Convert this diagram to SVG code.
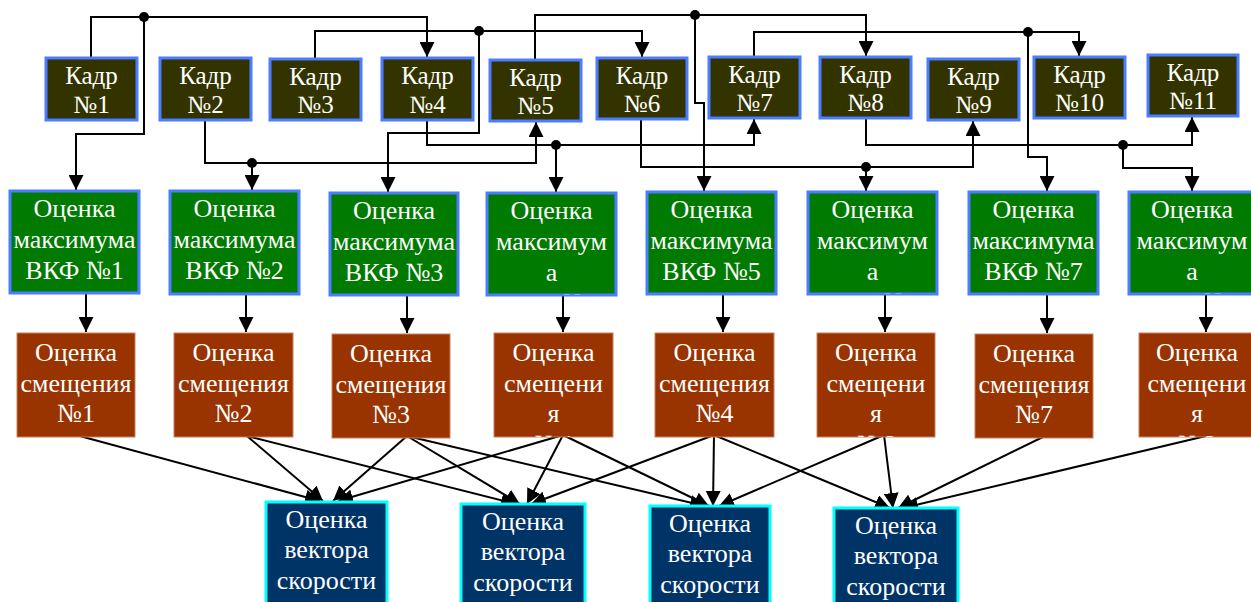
<svg xmlns="http://www.w3.org/2000/svg" width="1251" height="602" viewBox="0 0 1251 602">
<style>
.k rect{fill:#333300;stroke:#4a7dff;stroke-width:3}
.g rect{fill:#007a00;stroke:#4a7dff;stroke-width:3}
.b rect{fill:#993300;stroke:#c9805a;stroke-width:1}
.v rect{fill:#003366;stroke:#00ffff;stroke-width:3}
text{font-family:"Liberation Serif","Times New Roman",serif;font-size:26px;fill:#ffffff;text-anchor:middle}
.k text{font-size:25px}
.c path{fill:none;stroke:#000;stroke-width:2}
.c circle{fill:#000}
</style>
<defs>
<marker id="ar" markerUnits="userSpaceOnUse" markerWidth="15" markerHeight="15" refX="15" refY="7.5" orient="auto"><path d="M0,0 L15,7.5 L0,15 z" fill="#000"/></marker>
<clipPath id="cg4"><rect x="487" y="193" width="129" height="102"/></clipPath>
<clipPath id="cg6"><rect x="808" y="192" width="129" height="102"/></clipPath>
<clipPath id="cg8"><rect x="1129" y="192" width="129" height="102"/></clipPath>
<clipPath id="cb4"><rect x="494" y="333" width="119" height="104"/></clipPath>
<clipPath id="cb6"><rect x="817" y="333" width="118" height="104"/></clipPath>
<clipPath id="cb8"><rect x="1139" y="333" width="118" height="104"/></clipPath>
</defs>
<rect width="1251" height="602" fill="#ffffff"/>

<g id="connectors" class="c">
<path d="M91,58 V17 H427 V57" marker-end="url(#ar)"/>
<path d="M144,17 V134 H76 V190" marker-end="url(#ar)"/>
<path d="M315,59 V31 H642 V57" marker-end="url(#ar)"/>
<path d="M479,31 V133 H388 V192" marker-end="url(#ar)"/>
<path d="M427,120 V145 H754 V119" marker-end="url(#ar)"/>
<path d="M556,145 V192" marker-end="url(#ar)"/>
<path d="M205,120 V163 H536 V122" marker-end="url(#ar)"/>
<path d="M252,163 V190" marker-end="url(#ar)"/>
<path d="M535,60 V15 H866 V56" marker-end="url(#ar)"/>
<path d="M695,15 V103 H704 V191" marker-end="url(#ar)"/>
<path d="M641,119 V167 H973 V121" marker-end="url(#ar)"/>
<path d="M866,167 V191" marker-end="url(#ar)"/>
<path d="M754,57 V32 H1079 V56" marker-end="url(#ar)"/>
<path d="M1028,32 V157 H1047 V191" marker-end="url(#ar)"/>
<path d="M866,118 V145 H1192 V117" marker-end="url(#ar)"/>
<path d="M1123,145 V168 H1192 V191" marker-end="url(#ar)"/>
<circle cx="144" cy="17" r="5"/>
<circle cx="479" cy="31" r="5"/>
<circle cx="556" cy="145" r="5"/>
<circle cx="252" cy="163" r="5"/>
<circle cx="695" cy="15" r="5"/>
<circle cx="866" cy="167" r="5"/>
<circle cx="1028" cy="32" r="5"/>
<circle cx="1123" cy="145" r="5"/>

<path d="M86,294 V332" marker-end="url(#ar)"/>
<path d="M246,295 V332" marker-end="url(#ar)"/>
<path d="M407,296 V333" marker-end="url(#ar)"/>
<path d="M563,296 V332" marker-end="url(#ar)"/>
<path d="M723,295 V332" marker-end="url(#ar)"/>
<path d="M885,295 V332" marker-end="url(#ar)"/>
<path d="M1047,295 V333" marker-end="url(#ar)"/>
<path d="M1206,295 V332" marker-end="url(#ar)"/>

<path d="M76,435 L320,501" marker-end="url(#ar)"/>
<path d="M247,436 L323,501" marker-end="url(#ar)"/>
<path d="M407,436 L333,501" marker-end="url(#ar)"/>
<path d="M563,435 L338,501" marker-end="url(#ar)"/>
<path d="M247,436 L516,504" marker-end="url(#ar)"/>
<path d="M407,436 L520,504" marker-end="url(#ar)"/>
<path d="M563,435 L527,504" marker-end="url(#ar)"/>
<path d="M714,435 L531,504" marker-end="url(#ar)"/>
<path d="M407,436 L705,506" marker-end="url(#ar)"/>
<path d="M563,435 L709,506" marker-end="url(#ar)"/>
<path d="M714,435 L713,506" marker-end="url(#ar)"/>
<path d="M884,435 L719,506" marker-end="url(#ar)"/>
<path d="M714,435 L890,508" marker-end="url(#ar)"/>
<path d="M884,435 L893,508" marker-end="url(#ar)"/>
<path d="M1047,435 L898,508" marker-end="url(#ar)"/>
<path d="M1206,436 L903,508" marker-end="url(#ar)"/>
</g>

<g id="kadr1" class="k"><rect x="46" y="58" width="91" height="62"/><text x="91.5" y="84">Кадр</text><text x="91.5" y="113">№1</text></g>
<g id="kadr2" class="k"><rect x="160" y="58" width="91" height="62"/><text x="205.5" y="84">Кадр</text><text x="205.5" y="113">№2</text></g>
<g id="kadr3" class="k"><rect x="270" y="59" width="91" height="61"/><text x="315.5" y="85">Кадр</text><text x="315.5" y="113">№3</text></g>
<g id="kadr4" class="k"><rect x="382" y="58" width="91" height="62"/><text x="427.5" y="84">Кадр</text><text x="427.5" y="113">№4</text></g>
<g id="kadr5" class="k"><rect x="490" y="60" width="91" height="61"/><text x="535.5" y="86">Кадр</text><text x="535.5" y="114">№5</text></g>
<g id="kadr6" class="k"><rect x="597" y="58" width="90" height="61"/><text x="642" y="84">Кадр</text><text x="642" y="112">№6</text></g>
<g id="kadr7" class="k"><rect x="709" y="57" width="91" height="61"/><text x="754.5" y="83">Кадр</text><text x="754.5" y="111">№7</text></g>
<g id="kadr8" class="k"><rect x="820" y="57" width="91" height="61"/><text x="865.5" y="83">Кадр</text><text x="865.5" y="111">№8</text></g>
<g id="kadr9" class="k"><rect x="928" y="59" width="91" height="61"/><text x="973.5" y="85">Кадр</text><text x="973.5" y="113">№9</text></g>
<g id="kadr10" class="k"><rect x="1034" y="57" width="91" height="61"/><text x="1079.5" y="83">Кадр</text><text x="1079.5" y="111">№10</text></g>
<g id="kadr11" class="k"><rect x="1148" y="55" width="90" height="61"/><text x="1193" y="81">Кадр</text><text x="1193" y="109">№11</text></g>

<g id="vkf1" class="g"><rect x="10" y="191" width="129" height="102"/><text x="74.5" y="217">Оценка</text><text x="74.5" y="248">максимума</text><text x="74.5" y="279">ВКФ №1</text></g>
<g id="vkf2" class="g"><rect x="170" y="191" width="129" height="103"/><text x="234.5" y="217">Оценка</text><text x="234.5" y="248">максимума</text><text x="234.5" y="279">ВКФ №2</text></g>
<g id="vkf3" class="g"><rect x="330" y="193" width="128" height="102"/><text x="394" y="219">Оценка</text><text x="394" y="250">максимума</text><text x="394" y="281">ВКФ №3</text></g>
<g id="vkf4" class="g"><rect x="487" y="193" width="129" height="102"/><g clip-path="url(#cg4)"><text x="551.5" y="219">Оценка</text><text x="551.5" y="250">максимум</text><text x="551.5" y="281">а</text><text x="551.5" y="312">ВКФ №4</text></g></g>
<g id="vkf5" class="g"><rect x="647" y="192" width="129" height="102"/><text x="711.5" y="218">Оценка</text><text x="711.5" y="249">максимума</text><text x="711.5" y="280">ВКФ №5</text></g>
<g id="vkf6" class="g"><rect x="808" y="192" width="129" height="102"/><g clip-path="url(#cg6)"><text x="872.5" y="218">Оценка</text><text x="872.5" y="249">максимум</text><text x="872.5" y="280">а</text><text x="872.5" y="311">ВКФ №6</text></g></g>
<g id="vkf7" class="g"><rect x="969" y="192" width="129" height="102"/><text x="1033.5" y="218">Оценка</text><text x="1033.5" y="249">максимума</text><text x="1033.5" y="280">ВКФ №7</text></g>
<g id="vkf8" class="g"><rect x="1129" y="192" width="129" height="102"/><g clip-path="url(#cg8)"><text x="1192" y="218">Оценка</text><text x="1192" y="249">максимум</text><text x="1192" y="280">а</text><text x="1192" y="311">ВКФ №8</text></g></g>

<g id="shift1" class="b"><rect x="17" y="333" width="118" height="104"/><text x="76" y="361">Оценка</text><text x="76" y="392">смещения</text><text x="76" y="422">№1</text></g>
<g id="shift2" class="b"><rect x="174" y="333" width="119" height="104"/><text x="233.5" y="361">Оценка</text><text x="233.5" y="392">смещения</text><text x="233.5" y="422">№2</text></g>
<g id="shift3" class="b"><rect x="332" y="334" width="118" height="104"/><text x="391" y="362">Оценка</text><text x="391" y="393">смещения</text><text x="391" y="423">№3</text></g>
<g id="shift4" class="b"><rect x="494" y="333" width="119" height="104"/><g clip-path="url(#cb4)"><text x="553.5" y="361">Оценка</text><text x="553.5" y="392">смещени</text><text x="553.5" y="422">я</text><text x="553.5" y="453">№4</text></g></g>
<g id="shift5" class="b"><rect x="655" y="333" width="119" height="104"/><text x="714.5" y="361">Оценка</text><text x="714.5" y="392">смещения</text><text x="714.5" y="422">№4</text></g>
<g id="shift6" class="b"><rect x="817" y="333" width="118" height="104"/><g clip-path="url(#cb6)"><text x="876" y="361">Оценка</text><text x="876" y="392">смещени</text><text x="876" y="422">я</text><text x="876" y="453">№6</text></g></g>
<g id="shift7" class="b"><rect x="975" y="334" width="118" height="104"/><text x="1034" y="362">Оценка</text><text x="1034" y="393">смещения</text><text x="1034" y="423">№7</text></g>
<g id="shift8" class="b"><rect x="1139" y="333" width="118" height="104"/><g clip-path="url(#cb8)"><text x="1197" y="361">Оценка</text><text x="1197" y="392">смещени</text><text x="1197" y="422">я</text><text x="1197" y="453">№8</text></g></g>

<g id="vel1" class="v"><rect x="266" y="502" width="121" height="110"/><text x="326.5" y="528">Оценка</text><text x="326.5" y="558">вектора</text><text x="326.5" y="589">скорости</text></g>
<g id="vel2" class="v"><rect x="461" y="504" width="124" height="110"/><text x="523" y="530">Оценка</text><text x="523" y="560">вектора</text><text x="523" y="591">скорости</text></g>
<g id="vel3" class="v"><rect x="650" y="506" width="120" height="110"/><text x="710" y="532">Оценка</text><text x="710" y="562">вектора</text><text x="710" y="593">скорости</text></g>
<g id="vel4" class="v"><rect x="834" y="508" width="124" height="110"/><text x="896" y="534">Оценка</text><text x="896" y="564">вектора</text><text x="896" y="595">скорости</text></g>
</svg>
